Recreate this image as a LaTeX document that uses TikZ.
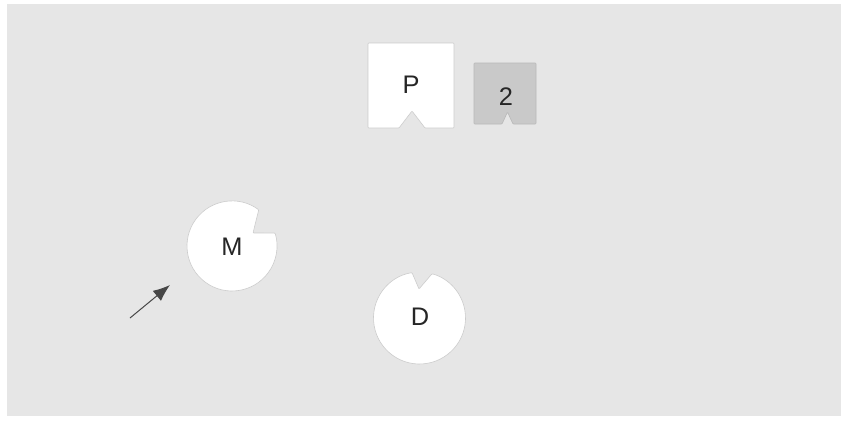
\documentclass[tikz,border=0pt]{standalone}
\usepackage{fontspec}
\setmainfont{Liberation Sans}
\usetikzlibrary{arrows.meta,positioning}
\definecolor{paper}{HTML}{E6E6E6}
\definecolor{edge}{HTML}{CCCCCC}
\definecolor{tile}{HTML}{C9C9C9}
\definecolor{ink}{HTML}{262626}
\tikzstyle{piece} = [fill=white, draw=edge, line width=0.6bp, rounded corners=0.8bp]
\tikzstyle{greypiece} = [fill=tile, draw=edge!90!black, line width=0.6bp, rounded corners=0.8bp]
\tikzstyle{glyph} = [text=ink, inner sep=0pt, font=\fontsize{25.5}{28}\selectfont]
\tikzstyle{pointer} = [draw=ink!85, line width=1bp, -{Latex[length=17bp,width=13bp]}]

\begin{document}
\begin{tikzpicture}[x=1bp, y=1bp]
    % Sheet
    \useasboundingbox (0,0) rectangle (841,421);
    \fill[white] (0,0) rectangle (841,421);
    \fill[paper] (7,5) rectangle (841,417);

    % Centres
    \coordinate (Mc) at (232,175);
    \coordinate (Dc) at (419.5,103);

    % Square pieces
    \path[piece] (368,293) -- (368,378) -- (454,378) -- (454,293)
        -- (425,293) -- (412,310) -- (399,293) -- cycle;
    \path[greypiece] (474,297) -- (474,358) -- (536,358) -- (536,297)
        -- (513,297) -- (507.5,309) -- (502,297) -- cycle;

    % Round pieces
    \path[piece] (Mc) ++(53.5:45) arc[start angle=53.5, end angle=376.8, radius=45]
        -- (253,188) -- cycle;
    \path[piece] (Dc) ++(99.4:46) arc[start angle=99.4, end angle=434.2, radius=46]
        -- (419,132) -- cycle;

    % Letters
    \node [glyph] (P) at (411,336) {P};
    \node [glyph] (two) at (506,324) {2};
    \node [glyph] (M) at (232,174) {M};
    \node [glyph] (D) at (420,104) {D};

    % Arrow
    \coordinate (tail) at (130,103);
    \coordinate (tip) at (170,136);
    \draw [pointer] (tail) -- (tip);
\end{tikzpicture}
\end{document}
